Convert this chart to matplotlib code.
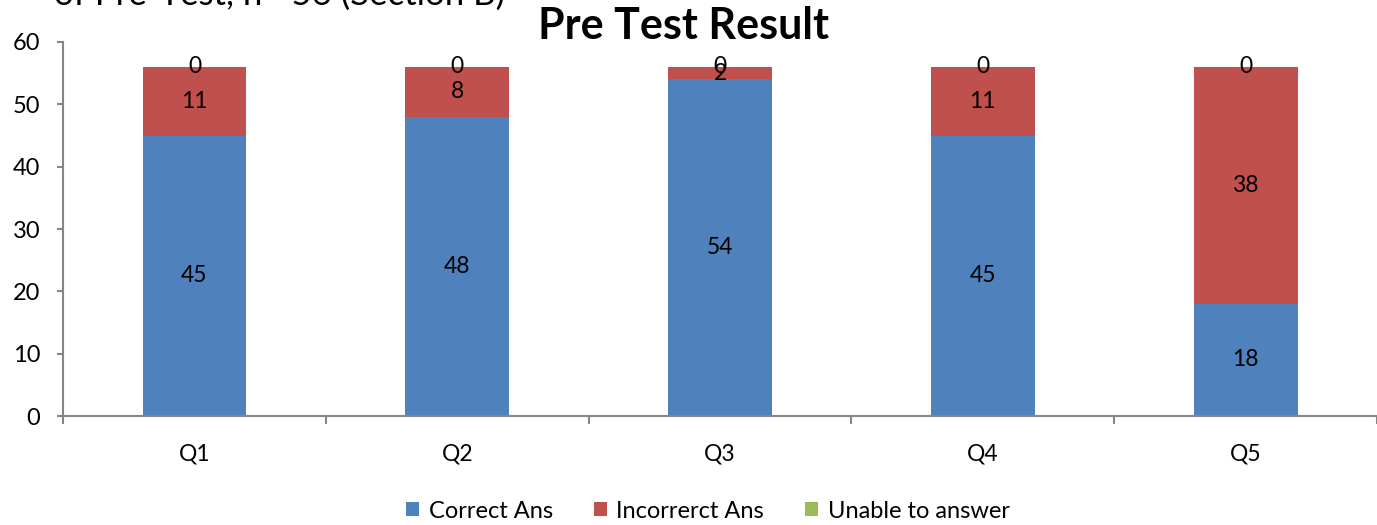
import numpy as np
import matplotlib.pyplot as plt
from matplotlib.ticker import FixedLocator

plt.rcParams["font.family"] = ["Lato", "DejaVu Sans"]

questions = ["Q1", "Q2", "Q3", "Q4", "Q5"]
correct = [45, 48, 54, 45, 18]
incorrect = [11, 8, 2, 11, 38]
unable = [0, 0, 0, 0, 0]

series_names = ["Correct Ans", "Incorrerct Ans", "Unable to answer"]
colors = ["#4F81BD", "#C0504D", "#9BBB59"]
grey = "#868686"

fig = plt.figure(figsize=(13.77, 5.25), dpi=100)
ax = fig.add_axes([0.0458, 0.2076, 0.9542, 0.7124])

x = np.arange(len(questions))
width = 0.395
bottom = np.zeros(len(questions))
for vals, name, col in zip([correct, incorrect, unable], series_names, colors):
    bars = ax.bar(x, vals, width, bottom=bottom, color=col, label=name)
    ax.bar_label(bars, labels=[str(v) for v in vals], label_type="center",
                 fontsize=16.5, color="black")
    bottom += np.array(vals)

ax.set_xlim(-0.5, len(questions) - 0.5)
ax.set_ylim(0, 60)
ax.set_yticks(range(0, 61, 10))
ax.set_xticks(x)
ax.set_xticklabels(questions)
ax.xaxis.set_minor_locator(FixedLocator(np.arange(-0.5, len(questions), 1.0)))
ax.tick_params(axis="x", which="major", length=0, pad=20, labelsize=16.5)
ax.tick_params(axis="x", which="minor", length=6, color=grey, width=1.5)
ax.tick_params(axis="y", length=4.5, color=grey, width=1.5, labelsize=17, pad=12)

for side in ["top", "right"]:
    ax.spines[side].set_visible(False)
for side in ["left", "bottom"]:
    ax.spines[side].set_color(grey)
    ax.spines[side].set_linewidth(1.5)

fig.text(683 / 1377, 1 - 26 / 525, "Pre Test Result", ha="center", va="center",
         fontsize=31, fontweight="bold")
fig.text(505 / 1377, 1 - 5 / 525, "of Pre-Test, n= 56 (Section B)", ha="right",
         va="baseline", fontsize=25)

fig.legend(loc="center", bbox_to_anchor=(708 / 1377, 1 - 511 / 525), ncol=3,
           frameon=False, fontsize=17, handlelength=0.55, handleheight=0.55,
           handletextpad=0.4, columnspacing=1.75)

fig.savefig("out.png", dpi=100)
